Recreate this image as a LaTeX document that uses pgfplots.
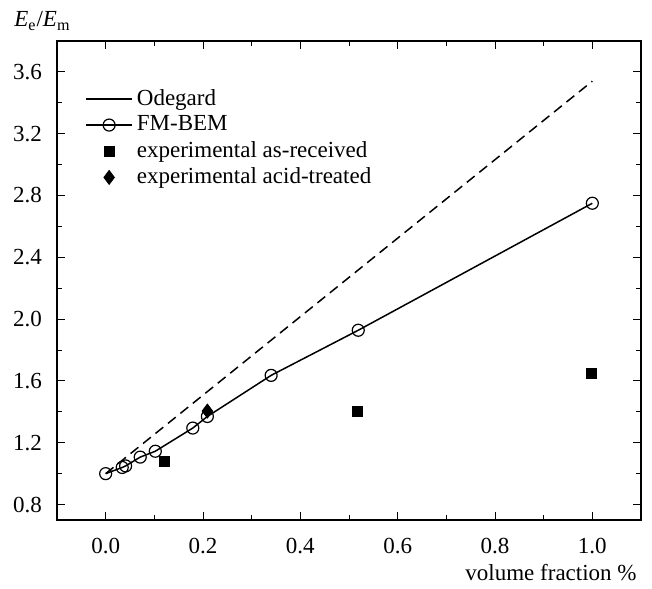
\documentclass[border=0pt]{standalone}
\usepackage{fontspec}
\setmainfont{Liberation Serif}
\usepackage{pgfplots}
\pgfplotsset{compat=1.18}

\begin{document}
\fontsize{11.5pt}{13pt}\selectfont
\begin{tikzpicture}
\begin{axis}[
    name=ax,
    width=292pt, height=239.5pt,
    scale only axis,
    xmin=-0.1, xmax=1.1,
    ymin=0.7, ymax=3.8,
    xtick={0,0.2,...,1.0},
    ytick={0.8,1.2,...,3.6},
    minor x tick num=1,
    minor y tick num=1,
    tick align=inside,
    major tick length=4pt,
    minor tick length=2.5pt,
    axis line style={line width=0.7pt},
    tick style={line width=0.5pt, black},
    /pgf/number format/assume math mode=true,
    /pgf/number format/.cd, fixed, fixed zerofill, precision=1, /pgfplots/.cd,
    xticklabel style={yshift=-5pt},
    yticklabel style={xshift=-3.5pt},
    xlabel={volume fraction \%},
    xlabel style={at={(rel axis cs:1,0)}, anchor=north east, yshift=-22pt, xshift=-2pt, inner sep=0pt},
    legend style={draw=none, fill=none, at={(rel axis cs:0,1)}, anchor=north west,
        xshift=11pt, yshift=-20pt, row sep=-0.5pt, font=\fontsize{11.5pt}{13pt}\selectfont},
    legend cell align=left,
    legend image code/.code={
        \draw[mark repeat=2, mark phase=2, #1] plot coordinates {(0pt,0pt) (11.5pt,0pt) (23pt,0pt)};
    },
]
\addlegendimage{black, solid, line width=0.75pt}
\addlegendentry{Odegard}
\addplot[black, dashed, line width=0.75pt, dash pattern=on 5pt off 3pt, forget plot] coordinates {
    (0,1.0) (1.0,3.54)
};
\addplot[black, line width=0.75pt, mark=o, mark size=3pt, mark options={fill=white, solid, line width=0.6pt}] coordinates {
    (0,1.0) (0.034,1.04) (0.041,1.05) (0.071,1.107) (0.102,1.145)
    (0.179,1.295) (0.209,1.37) (0.34,1.636) (0.519,1.928) (1.0,2.75)
};
\addlegendentry{FM-BEM}
\addplot[only marks, black, mark=square*, mark size=2.5pt] coordinates {
    (0.12,1.08) (0.518,1.405) (0.998,1.647)
};
\addlegendentry{experimental as-received}
\addplot[only marks, black, mark=diamond*, mark size=3.5pt] coordinates {
    (0.209,1.405)
};
\addlegendentry{experimental acid-treated}
\end{axis}
\node[anchor=base west, inner sep=0pt] at ([shift={(-21.5pt,7pt)}]ax.north west)
    {\textit{E}\textsubscript{e}/\textit{E}\textsubscript{m}};
\pgfresetboundingbox
\path[use as bounding box] ([shift={(-28.5pt,-34pt)}]ax.south west) rectangle ([shift={(5.5pt,20.5pt)}]ax.north east);
\end{tikzpicture}
\end{document}
